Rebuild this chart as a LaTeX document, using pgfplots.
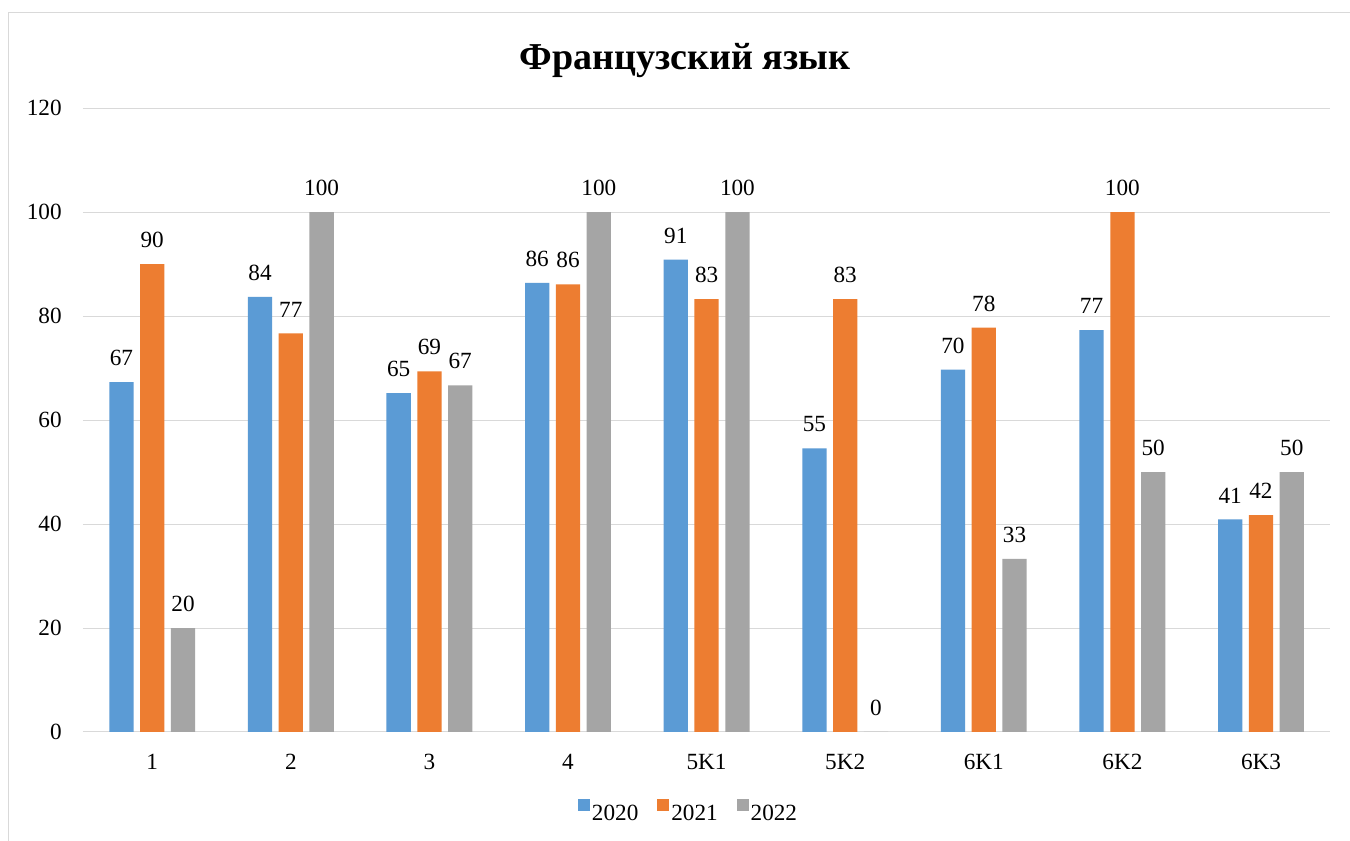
\documentclass[border=0pt]{standalone}
\usepackage{fontspec}
\setmainfont{Liberation Serif}
\usepackage{pgfplots}
\pgfplotsset{compat=1.18}
\definecolor{cA}{HTML}{5B9BD5}
\definecolor{cB}{HTML}{ED7D31}
\definecolor{cC}{HTML}{A5A5A5}
\definecolor{gridc}{HTML}{D9D9D9}
\newcommand\tickfont{\fontsize{17.4pt}{20pt}\selectfont}
\begin{document}
\begin{tikzpicture}
\useasboundingbox (0,0) rectangle (1012.5pt,630.75pt);
\clip (0,0) rectangle (1012.5pt,630.75pt);
\fill[white] (0,0) rectangle (1012.5pt,630.75pt);
\draw[gridc, line width=1.2pt] (6.3pt,-10pt) rectangle (1024.5pt,621.5pt);
\node[anchor=base, font=\fontsize{28.5pt}{32pt}\selectfont\bfseries] at (513.75pt,578.8pt) {Французский язык};
\begin{axis}[
  scale only axis, width=935.5pt, height=467.8pt,
  at={(62.2pt,81.75pt)}, anchor=south west,
  ybar=4.9pt, bar width=18.2pt,
  xmin=-0.5, xmax=8.5, ymin=0, ymax=120,
  xtick={0,...,8}, xticklabels={1,2,3,4,5K1,5K2,6K1,6K2,6K3},
  ytick={0,20,...,120},
  ymajorgrids, grid style={gridc, line width=0.75pt},
  axis line style={draw=none},
  major tick length=0pt,
  tick label style={font=\tickfont},
  /pgf/number format/assume math mode=true,
  xticklabel style={anchor=north, inner sep=0pt, yshift=-16.5pt},
  yticklabel style={anchor=east, inner sep=0pt, xshift=-15.75pt},
  nodes near coords={\pgfmathprintnumber[fixed,precision=0]{\pgfplotspointmeta}},
  every node near coord/.append style={font=\tickfont, anchor=south, inner sep=0pt, yshift=12pt, text=black},
  legend columns=3,
  legend image code/.code={\path (0pt,0pt); \fill[#1] (0pt,2.5pt) rectangle (9pt,11.5pt);},
  legend style={at={(0.4855,-0.1278)}, anchor=center, draw=none, fill=none, font=\tickfont,
    nodes={inner sep=1.6pt},
    /tikz/every even column/.append style={column sep=12.5pt}},
]
\addplot[fill=cA, draw=none] coordinates {(0,67.3)(1,83.7)(2,65.2)(3,86.4)(4,90.9)(5,54.55)(6,69.7)(7,77.3)(8,40.9)};
\addplot[fill=cB, draw=none] coordinates {(0,90)(1,76.7)(2,69.4)(3,86.1)(4,83.3)(5,83.3)(6,77.8)(7,100)(8,41.7)};
\addplot[fill=cC, draw=none] coordinates {(0,20)(1,100)(2,66.7)(3,100)(4,100)(5,0)(6,33.3)(7,50)(8,50)};
\legend{2020,2021,2022}
\end{axis}
\end{tikzpicture}
\end{document}
